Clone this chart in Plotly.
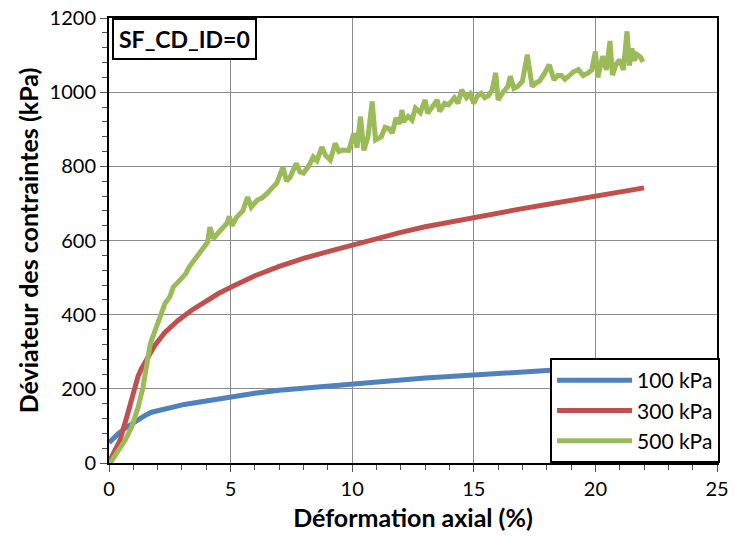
import plotly.graph_objects as go

# 100 kPa
x_100 = [0, 0.15, 0.38, 0.65, 0.93, 1.2, 1.5, 1.75, 2.1, 2.58, 3.1, 3.67, 4.3, 5.05, 6, 7, 8, 9, 10,
         11, 12, 13, 14, 15, 16, 17, 18, 19, 20, 21, 22]
y_100 = [55, 66, 79, 93, 106, 118, 129, 137, 143, 151, 158, 164, 171, 178, 188, 196, 202, 207, 213,
         219, 224, 229, 233, 237, 241, 245, 249, 252, 256, 261, 266]

# 300 kPa
x_300 = [0, 0.2, 0.45, 0.73, 0.93, 1.05, 1.2, 1.34, 1.5, 1.62, 1.89, 2.3, 2.85, 3.4, 3.95, 4.5, 5.05,
         5.6, 6, 7, 8, 9, 10, 11, 12, 13, 14, 15, 16, 17, 18, 19, 20, 21, 22]
y_300 = [2, 28, 61, 124, 170, 205, 235, 255, 272, 286, 318, 352, 385, 412, 434, 457, 475,
         493, 505, 530, 552, 570, 588, 606, 622, 637, 650, 662, 675, 686, 697, 708, 719, 730, 742]

# 500 kPa
x_500 = [0.05, 0.38, 0.66, 0.93, 1.2, 1.4, 1.55, 1.7, 1.9, 2.1, 2.3, 2.5, 2.65, 2.8, 3.0, 3.15, 3.3,
         3.5, 3.7, 3.9, 4.05, 4.15, 4.3, 4.4, 4.6, 4.85, 4.95, 5.05, 5.25, 5.5, 5.7, 5.85, 6.1, 6.3,
         6.5, 6.7, 6.9, 7.15, 7.3, 7.45, 7.7, 7.85, 8.0, 8.2, 8.4, 8.55, 8.75, 8.9, 9.1, 9.3, 9.45,
         9.6, 9.86, 10.07, 10.2, 10.34, 10.48, 10.65, 10.82, 10.96, 11.2, 11.35, 11.5, 11.65, 11.8,
         11.95, 12.05, 12.1, 12.3, 12.46, 12.6, 12.8, 13.0, 13.1, 13.3, 13.5, 13.6, 13.8, 13.96,
         14.2, 14.35, 14.5, 14.7, 14.85, 15.0, 15.15, 15.3, 15.45, 15.6, 15.75, 15.9, 16.0, 16.2,
         16.4, 16.5, 16.65, 16.8, 17.0, 17.2, 17.4, 17.55, 17.7, 17.9, 18.1, 18.3, 18.45, 18.6,
         18.75, 18.9, 19.1, 19.3, 19.5, 19.7, 19.85, 20.0, 20.1, 20.3, 20.45, 20.6, 20.7, 20.85,
         21.0, 21.15, 21.3, 21.4, 21.5, 21.6, 21.7, 21.85, 21.95]
y_500 = [0, 34, 61, 97, 151, 205, 259, 322, 358, 394, 430, 448, 475, 485, 502, 510, 529,
         547, 566, 582, 595, 636, 605, 614, 630, 647, 665, 640, 663, 680, 717, 690, 709, 715,
         727, 740, 755, 798, 760, 771, 808, 785, 782, 800, 825, 815, 852, 830, 817, 862, 840,
         844, 843, 889, 850, 934, 843, 880, 975, 871, 880, 905, 902, 890, 930,
         915, 952, 920, 935, 925, 957, 945, 979, 943, 960, 979, 948, 970, 966,
         985, 970, 1006, 985, 995, 970, 990, 997, 985, 990, 1005, 1052, 979, 1000,
         1015, 1043, 1010, 1015, 1030, 1101, 1015, 1025, 1030, 1050, 1074, 1033, 1045, 1045,
         1035, 1043, 1055, 1061, 1045, 1052, 1060, 1110, 1040, 1097, 1060, 1138, 1046, 1075,
         1087, 1060, 1164, 1072, 1118, 1085, 1102, 1095, 1082]

colors = ['#4F81BD', '#C0504D', '#9BBB59']
names = ['100 kPa', '300 kPa', '500 kPa']

fig = go.Figure()
for xs, ys, c, n in zip([x_100, x_300, x_500], [y_100, y_300, y_500], colors, names):
    fig.add_trace(go.Scatter(x=xs, y=ys, mode='lines', name=n,
                             line=dict(color=c, width=5)))

font = "Lato, 'Open Sans', sans-serif"
fig.update_layout(
    width=737, height=540,
    margin=dict(l=109, r=20, t=18, b=77),
    paper_bgcolor='white', plot_bgcolor='white',
    font=dict(family=font, size=20, color='black'),
    showlegend=True,
    legend=dict(x=1.005, y=0, xanchor='right', yanchor='bottom',
                bordercolor='black', borderwidth=2, bgcolor='white',
                font=dict(size=21), itemwidth=75, tracegroupgap=0),
    xaxis=dict(range=[0, 25], dtick=5, showgrid=True, gridcolor='#8c8c8c', gridwidth=1,
               showline=True, linecolor='black', linewidth=2, mirror=True,
               ticks='outside', ticklen=7, tickcolor='#555555', automargin=False,
               ticklabeloverflow='allow',
               minor=dict(dtick=1, ticks='outside', ticklen=5, tickcolor='#555555', showgrid=False),
               zeroline=False,
               title=dict(text='<b>Déformation axial (%)</b>', font=dict(size=25), standoff=10)),
    yaxis=dict(range=[0, 1200], dtick=200, showgrid=True, gridcolor='#8c8c8c', gridwidth=1,
               showline=True, linecolor='black', linewidth=2, mirror=True,
               ticks='outside', ticklen=7, tickcolor='#555555', automargin=False,
               ticklabeloverflow='allow',
               minor=dict(dtick=40, ticks='outside', ticklen=5, tickcolor='#555555', showgrid=False),
               zeroline=False,
               title=dict(text='<b>Déviateur des contraintes (kPa)</b>', font=dict(size=25), standoff=4)),
)

fig.add_annotation(x=0.005, y=1, xref='paper', yref='paper', xanchor='left', yanchor='top',
                   text='<b>SF_CD_ID=0</b>', showarrow=False, font=dict(size=23),
                   bordercolor='black', borderwidth=2, borderpad=5, bgcolor='white')

# supprimer la marge par défaut de la page pour placer la figure en (0, 0)
fig.write_html("out.html", config={'displayModeBar': False},
               post_script="document.body.style.margin = '0';")
